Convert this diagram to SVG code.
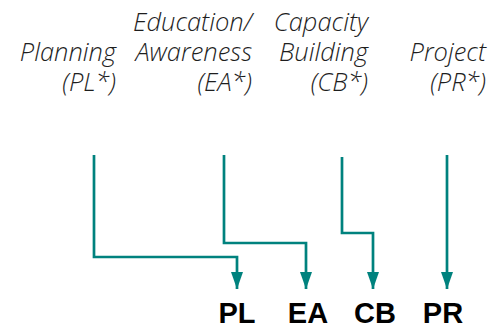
<svg xmlns="http://www.w3.org/2000/svg" width="503" height="329" viewBox="0 0 503 329">
<style>
.cat{font-family:"Open Sans","Noto Sans",sans-serif;font-style:italic;font-weight:300;font-size:25.5px;fill:#1e1e1e;text-anchor:end}
.lab{font-family:"Liberation Sans",Arial,sans-serif;font-weight:bold;font-size:29px;fill:#000;text-anchor:middle}
.con{fill:none;stroke:#00827e;stroke-width:2.7}
</style>
<defs>
<marker id="a" viewBox="0 0 17 12" refX="17" refY="6" markerWidth="17" markerHeight="12" markerUnits="userSpaceOnUse" orient="auto">
<path d="M0,0 L17,6 L0,12 Z" fill="#00827e"/>
</marker>
</defs>
<g id="cat-pl"><text class="cat" x="116" y="61">Planning</text><text class="cat" x="116" y="91">(PL*)</text></g>
<g id="cat-ea"><text class="cat" x="252" y="31">Education/</text><text class="cat" x="252" y="61">Awareness</text><text class="cat" x="252" y="91">(EA*)</text></g>
<g id="cat-cb"><text class="cat" x="368" y="31">Capacity</text><text class="cat" x="368" y="61">Building</text><text class="cat" x="368" y="91">(CB*)</text></g>
<g id="cat-pr"><text class="cat" x="486" y="61">Project</text><text class="cat" x="486" y="91">(PR*)</text></g>
<g id="connectors">
<path class="con" d="M94,155 V257 H237 V289" marker-end="url(#a)"/>
<path class="con" d="M224,155 V243 H306 V289" marker-end="url(#a)"/>
<path class="con" d="M342,157 V233 H373 V289" marker-end="url(#a)"/>
<path class="con" d="M447,155 V289" marker-end="url(#a)"/>
</g>
<g id="lab-pl"><text class="lab" x="237" y="323">PL</text></g>
<g id="lab-ea"><text class="lab" x="308" y="323">EA</text></g>
<g id="lab-cb"><text class="lab" x="375" y="323">CB</text></g>
<g id="lab-pr"><text class="lab" x="443" y="323">PR</text></g>
</svg>
